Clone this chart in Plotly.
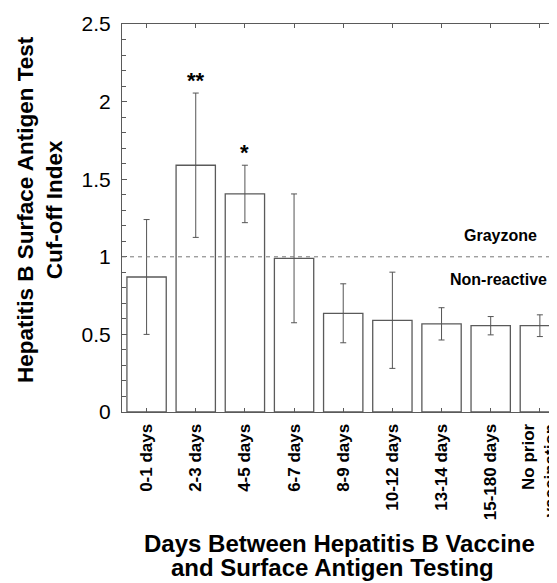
import plotly.graph_objects as go

categories = ["0-1 days", "2-3 days", "4-5 days", "6-7 days", "8-9 days",
              "10-12 days", "13-14 days", "15-180 days", "No prior<br>vaccination"]
means = [0.87, 1.59, 1.405, 0.99, 0.636, 0.591, 0.568, 0.556, 0.556]
errors = [0.37, 0.465, 0.185, 0.415, 0.19, 0.31, 0.104, 0.059, 0.07]
sig_labels = {"2-3 days": "**", "4-5 days": "*"}
cutoff = 1.0

# page body has an 8px margin; figure sized so it fits the 557x583 window
OFF = 8
W, H = 557 - OFF, 583 - OFF
L, R, T, B = 114, 0, 16, 171
FONT = "Liberation Sans, Arial, Helvetica, sans-serif"
AX = "#5a5a5a"

def px_x(p):
    return (p - OFF - L) / (W - L - R)

def px_y(p):
    return (H - B - (p - OFF)) / (H - T - B)

fig = go.Figure()
fig.add_trace(go.Bar(
    x=list(range(len(categories))), y=means, width=0.8,
    marker=dict(color="white", line=dict(color=AX, width=1.3)),
    error_y=dict(type="data", array=errors, visible=True, color="#555555",
                 thickness=1, width=3),
    showlegend=False,
))

annotations = []
for i, c in enumerate(categories):
    if c in sig_labels:
        annotations.append(dict(x=i, y=means[i] + errors[i], xref="x", yref="y",
                                text=sig_labels[c], showarrow=False, xanchor="center",
                                yanchor="bottom", yshift=-2,
                                font=dict(family=FONT, size=22, color="black", weight="bold")))

def ann(x, y, text, size, angle=0):
    return dict(x=px_x(x), y=px_y(y), xref="paper", yref="paper", text=text,
                showarrow=False, xanchor="center", yanchor="middle", textangle=angle,
                font=dict(family=FONT, size=size, color="black", weight="bold"))

annotations += [
    ann(500, 235, "Grayzone", 16),
    ann(498, 279, "Non-reactive", 16),
    ann(40, 210, "Hepatitis B Surface Antigen Test<br>Cuf-off Index", 22.5, -90),
    ann(339, 543, "Days Between Hepatitis B Vaccine", 24),
    ann(332, 567, "and Surface Antigen Testing", 24),
]

fig.add_shape(type="line", xref="paper", yref="y", x0=0, x1=1, y0=cutoff, y1=cutoff,
              line=dict(color="#777777", width=1, dash="4px,4px"))

n_span = (W - L - R) / 49.16
fig.update_layout(
    width=W, height=H, margin=dict(l=L, r=R, t=T, b=B, autoexpand=False),
    plot_bgcolor="white", paper_bgcolor="white",
    annotations=annotations,
    xaxis=dict(range=[-0.5, -0.5 + n_span], tickmode="array",
               tickvals=list(range(len(categories))), ticktext=categories,
               tickangle=-90, ticks="inside", ticklen=4, tickcolor=AX,
               showline=True, linecolor=AX, linewidth=1, mirror="ticks",
               showgrid=False, zeroline=False, ticklabelstandoff=4,
               ticklabeloverflow="allow",
               tickfont=dict(family=FONT, size=17, color="black", weight="bold")),
    yaxis=dict(range=[0, 2.5], dtick=0.5, ticks="inside", ticklen=5, tickcolor=AX,
               showline=True, linecolor=AX, linewidth=1, mirror="ticks",
               showgrid=False, zeroline=False, ticklabelstandoff=6,
               minor=dict(dtick=0.1, ticks="inside", ticklen=4, tickcolor=AX, showgrid=False),
               tickformat="~g",
               tickfont=dict(family=FONT, size=21, color="black")),
)

fig.write_html("out.html")
